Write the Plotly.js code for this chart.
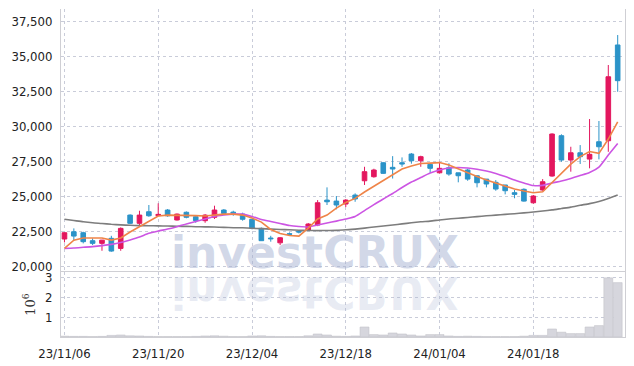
<!DOCTYPE html>
<html>
<head>
<meta charset="utf-8">
<script src="https://cdn.plot.ly/plotly-3.0.1.min.js"></script>
<style>html,body{margin:0;padding:0;background:#fff;}#chart{width:634px;height:366px;}</style>
</head>
<body>
<div id="chart"></div>
<script>
const dates = ['23/11/06','23/11/07','23/11/08','23/11/09','23/11/10','23/11/13','23/11/14','23/11/15','23/11/16','23/11/17',
'23/11/20','23/11/21','23/11/22','23/11/23','23/11/24','23/11/27','23/11/28','23/11/29','23/11/30','23/12/01',
'23/12/04','23/12/05','23/12/06','23/12/07','23/12/08','23/12/11','23/12/12','23/12/13','23/12/14','23/12/15',
'23/12/18','23/12/19','23/12/20','23/12/21','23/12/22','23/12/26','23/12/27','23/12/28','24/01/02','24/01/03',
'24/01/04','24/01/05','24/01/08','24/01/09','24/01/10','24/01/11','24/01/12','24/01/15','24/01/16','24/01/17',
'24/01/18','24/01/19','24/01/22','24/01/23','24/01/24','24/01/25','24/01/26','24/01/29','24/01/30','24/01/31'];

const openP = [21980,22500,22430,21860,21670,22030,21310,23690,23100,23930,
23650,24050,23340,23890,23570,23290,23530,24050,23900,23760,
23390,22740,22050,21710,22360,22520,22620,22980,24760,24690,
24480,25120,26140,26430,27430,27100,27430,28050,27570,27310,
26710,27070,26710,26910,26500,26260,26030,25840,25290,25530,
24570,25480,26480,29360,27620,28140,27690,28930,29000,35840];
const highP = [22450,22740,22500,22030,21920,22210,22810,23740,24000,24410,
24530,24120,23800,23950,23640,23760,24360,24120,24000,23860,
23400,22800,22210,22120,22450,22600,23120,24760,25670,25050,
24830,25240,27140,27000,27460,27900,27810,28120,27930,27360,
27500,27390,26710,27000,26500,26260,26190,25840,25480,25600,
25120,26260,29530,29460,28570,28690,30550,30410,34410,36550];
const lowP = [21740,21860,21670,21550,21140,21070,21140,23050,22980,23570,
23640,23570,23300,23460,23140,23140,23410,23690,23640,23290,
22670,21850,21790,21550,22240,22380,22560,22900,24410,24100,
24260,24640,25840,26360,26640,26300,27140,27360,27140,26710,
26670,26500,26030,26140,25670,25670,25430,25170,24890,24650,
24500,25430,26430,27500,26790,27340,27030,27670,28210,32500];
const closeP = [22430,22190,21790,21670,21900,21120,22740,23100,23690,23640,
23740,23640,23760,23530,23290,23690,24050,23810,23820,23390,
22740,21860,22000,22070,22320,22480,23050,24570,24640,24410,
24760,24840,26790,26910,26670,26980,27340,27570,27860,27030,
27030,26620,26500,26260,26000,25910,25550,25430,25170,24690,
25050,26070,29480,27620,28140,27860,28030,28570,33570,33290];

const ma5 = [21310,21900,22050,22050,22050,21900,22050,22480,22840,23260,
23620,23690,23690,23690,23650,23620,23690,23760,23760,23690,
23480,23190,22660,22370,22230,22190,22760,23410,23690,24190,
24590,24880,25340,25760,26190,26620,26980,27190,27370,27400,
27440,27260,26980,26690,26440,26190,25980,25760,25550,25410,
25290,25360,26000,26620,27330,27870,28230,28100,29120,30340];
const ma20 = [21310,21340,21390,21440,21510,21600,21730,21910,22120,22390,
22550,22690,22860,23050,23230,23410,23590,23690,23760,23760,
23590,23370,23230,23090,22940,22870,22840,22980,23120,23260,
23410,23590,24010,24440,24840,25230,25660,26050,26370,26690,
26910,27050,27090,27050,26960,26840,26660,26440,26190,25980,
25800,25810,25980,26120,26300,26510,26730,27120,27980,28810];
const ma60 = [23390,23300,23210,23140,23090,23030,22990,22960,22940,22930,
22920,22910,22890,22880,22860,22850,22840,22810,22790,22780,
22750,22720,22690,22660,22640,22610,22590,22580,22590,22600,
22640,22690,22760,22840,22910,22980,23060,23140,23210,23260,
23340,23410,23460,23520,23580,23640,23690,23740,23790,23850,
23910,23980,24060,24160,24260,24390,24510,24660,24870,25120];

const volume = [40000,30000,30000,20000,30000,80000,100000,60000,50000,30000,
20000,20000,20000,20000,30000,50000,60000,40000,20000,20000,
50000,60000,30000,20000,20000,20000,60000,150000,100000,40000,
30000,50000,500000,120000,100000,200000,150000,100000,50000,120000,
120000,50000,30000,40000,30000,20000,20000,20000,20000,40000,
80000,80000,400000,240000,170000,170000,500000,570000,2960000,2720000];

const xTickVals = ['23/11/06','23/11/20','23/12/04','23/12/18','24/01/04','24/01/18'];
const volTickVals = [1000000,2000000,3000000];
const volTickText = ['1','2','3'];
const watermark = 'investCRUX';

const gridC = '#c9ccd9';
const frameC = '#cfcfd4';
const tickFont = {family:'DejaVu Sans Condensed, sans-serif', size:13, color:'#222'};

const traces = [
  {type:'candlestick', x:dates, open:openP, high:highP, low:lowP, close:closeP,
   xaxis:'x', yaxis:'y', hoverinfo:'skip', whiskerwidth:0,
   increasing:{line:{color:'#e3175e', width:1}, fillcolor:'#e3175e'},
   decreasing:{line:{color:'#2b93c8', width:1}, fillcolor:'#2b93c8'}},
  {type:'scatter', mode:'lines', x:dates, y:ma60, xaxis:'x', yaxis:'y',
   line:{color:'#7d7d7d', width:1.6, shape:'spline', smoothing:0.6}, hoverinfo:'skip'},
  {type:'scatter', mode:'lines', x:dates, y:ma20, xaxis:'x', yaxis:'y',
   line:{color:'#cc55e3', width:1.6, shape:'spline', smoothing:0.6}, hoverinfo:'skip'},
  {type:'scatter', mode:'lines', x:dates, y:ma5, xaxis:'x', yaxis:'y',
   line:{color:'#ef8448', width:1.6}, hoverinfo:'skip'},
  {type:'bar', x:dates, y:volume, xaxis:'x', yaxis:'y2',
   marker:{color:'#d6d6dd', line:{color:'#c2c2ca', width:0.6}}, hoverinfo:'skip'}
];

const layout = {
  width:634, height:366,
  margin:{l:61, r:9, t:9, b:29},
  paper_bgcolor:'#fff', plot_bgcolor:'#fff',
  showlegend:false, bargap:0.05,
  xaxis:{type:'category', anchor:'y2', range:[-0.37,59.78], tickmode:'array', tickvals:xTickVals,
    showgrid:true, gridcolor:gridC, griddash:'dot', gridwidth:1,
    showline:true, linecolor:frameC, linewidth:1, mirror:true,
    ticks:'', tickfont:tickFont, ticklabelstandoff:4, rangeslider:{visible:false}},
  yaxis:{domain:[0.198,1], range:[19620,38410], tick0:20000, dtick:2500, tickformat:',d',
    showgrid:true, gridcolor:gridC, griddash:'dot', gridwidth:1,
    showline:true, linecolor:frameC, linewidth:1, mirror:true, zeroline:false,
    ticks:'', tickfont:tickFont, ticklabelstandoff:5},
  yaxis2:{domain:[0,0.198], range:[0,3250000], tickmode:'array', tickvals:volTickVals, ticktext:volTickText,
    showgrid:true, gridcolor:gridC, griddash:'dot', gridwidth:1,
    showline:true, linecolor:frameC, linewidth:1, mirror:true, zeroline:false,
    ticks:'', tickfont:tickFont, ticklabelstandoff:5,
    title:{text:'10<sup>6</sup>', font:{family:'DejaVu Serif, serif', size:13, color:'#333'}, standoff:6}},
  annotations:[
    {xref:'paper', yref:'paper', x:0.45, y:0.175, xanchor:'center', yanchor:'bottom', showarrow:false,
     text:watermark, font:{family:'DejaVu Sans', weight:'bold', size:44, color:'rgba(165,177,210,0.5)'}},
    {xref:'paper', yref:'paper', x:0.45, y:0.175, xanchor:'center', yanchor:'bottom', showarrow:false,
     text:watermark, font:{family:'DejaVu Sans', weight:'bold', size:44, color:'rgba(165,177,210,0.25)'}}
  ]
};

Plotly.newPlot('chart', traces, layout, {displayModeBar:false, staticPlot:true}).then(function(){
  const anns = document.querySelectorAll('g.annotation');
  if (anns.length > 1) {
    const m = 272.5;
    anns[1].setAttribute('transform', 'translate(0,' + (2*m) + ') scale(1,-1)');
  }
});
</script>
</body>
</html>
